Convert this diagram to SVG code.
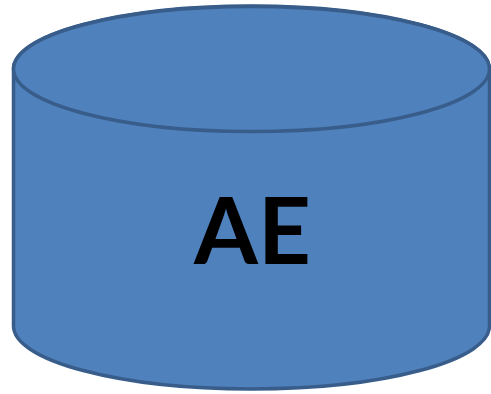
<svg xmlns="http://www.w3.org/2000/svg" width="491" height="394" viewBox="0 0 491 394">
<style>
.cyl{fill:#4F81BD;stroke:#385D8A;stroke-width:3.5}
.lbl{font-family:Lato,"Liberation Sans",sans-serif;font-weight:bold;font-size:92px;fill:#000}
</style>
<rect width="491" height="394" fill="#fff"/>
<g id="ae">
<path class="cyl" d="M13.5,69 L13.5,326 A238,63 0 0 0 489.5,326 L489.5,69 A238,63 0 0 0 13.5,69 Z"/>
<ellipse class="cyl" cx="251.5" cy="69" rx="238" ry="62.5"/>
<text class="lbl" x="252.5" y="264" text-anchor="middle">AE</text>
</g>
<g id="connectors"/>
</svg>
